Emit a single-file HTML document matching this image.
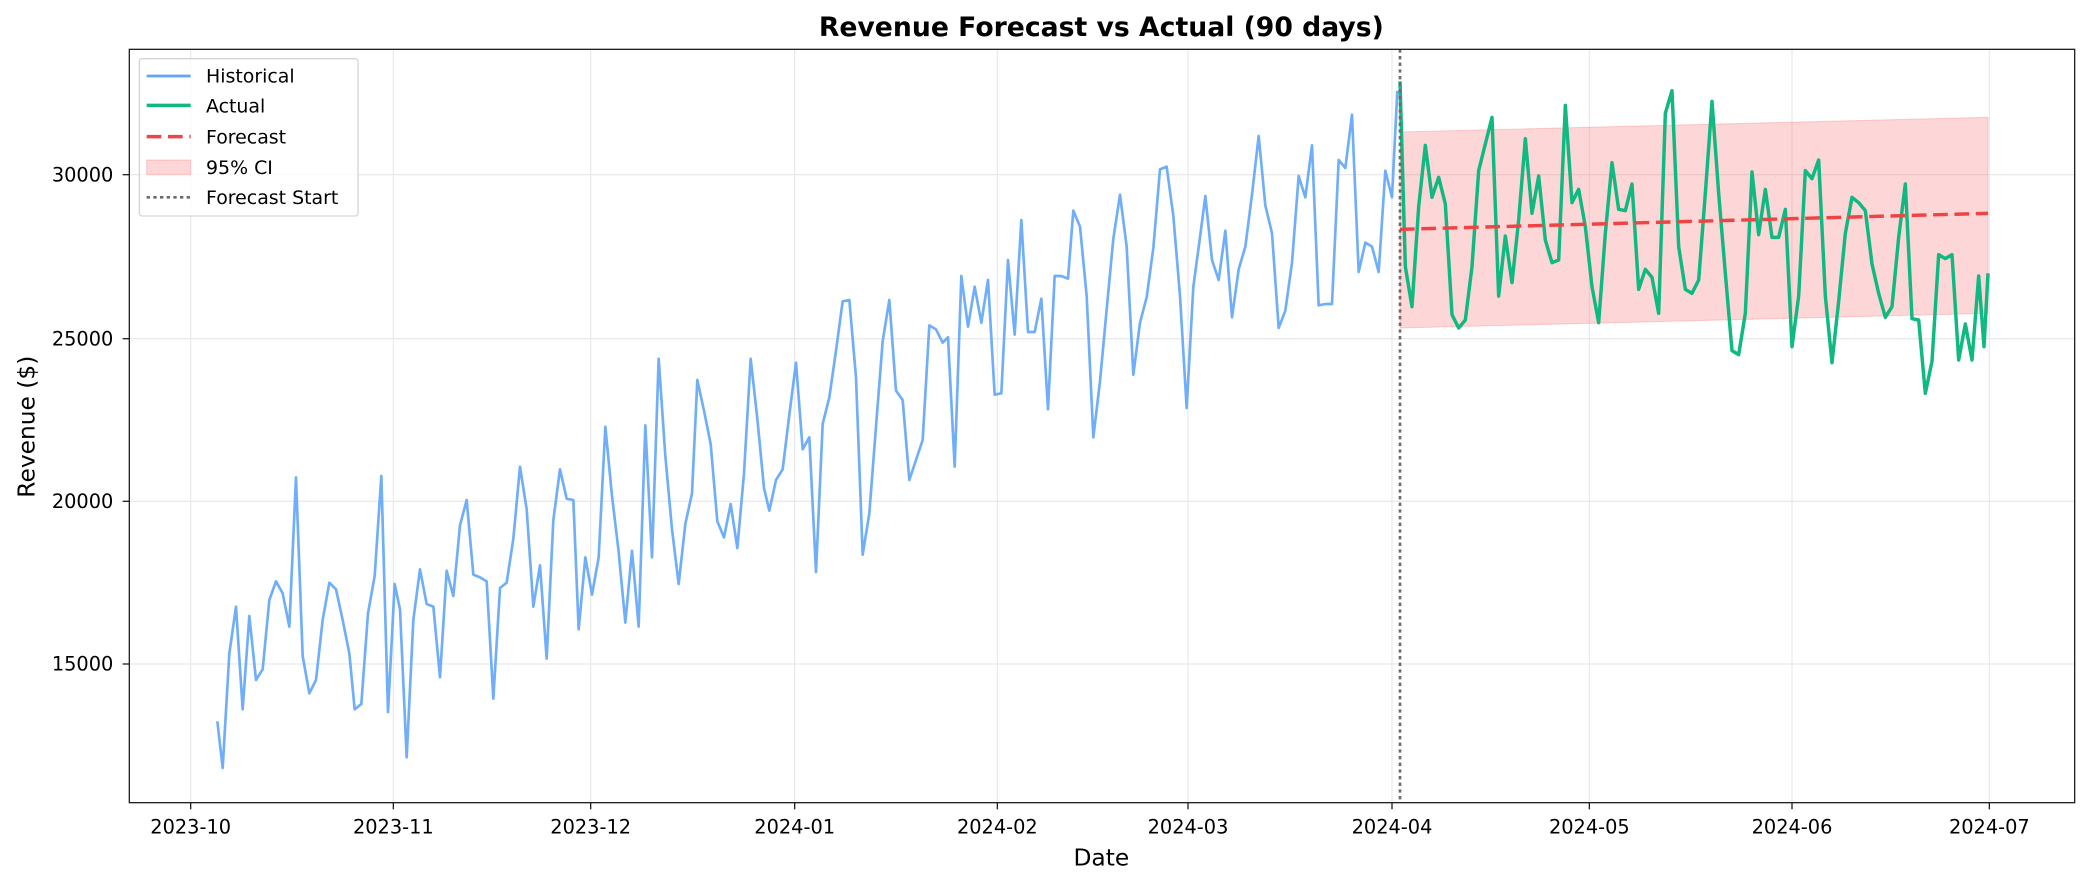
<!DOCTYPE html>
<html><head><style>html,body{margin:0;padding:0;background:#fff}svg{display:block}</style></head>
<body>
<svg width="2086" height="884" viewBox="0 0 1564.5 663" xmlns="http://www.w3.org/2000/svg" font-family="'DejaVu Sans','Liberation Sans',sans-serif">
<rect width="1564.5" height="663" fill="#fff"/>
<!-- grid -->
<g stroke="#e6e6e6" stroke-width="0.8">
<line x1="143" y1="37" x2="143" y2="602"/><line x1="295" y1="37" x2="295" y2="602"/><line x1="443" y1="37" x2="443" y2="602"/><line x1="596" y1="37" x2="596" y2="602"/><line x1="748" y1="37" x2="748" y2="602"/><line x1="891" y1="37" x2="891" y2="602"/><line x1="1044" y1="37" x2="1044" y2="602"/><line x1="1192" y1="37" x2="1192" y2="602"/><line x1="1344" y1="37" x2="1344" y2="602"/><line x1="1492" y1="37" x2="1492" y2="602"/>
<line x1="97" y1="131" x2="1556" y2="131"/><line x1="97" y1="254" x2="1556" y2="254"/><line x1="97" y1="376" x2="1556" y2="376"/><line x1="97" y1="498" x2="1556" y2="498"/>
</g>
<!-- CI -->
<polygon points="1050,99 1491,88 1491,235 1050,246" fill="#f87171" fill-opacity="0.28" stroke="#f87171" stroke-opacity="0.3" stroke-width="0.8"/>
<!-- historical -->
<polyline fill="none" stroke="#60a5fa" stroke-opacity="0.9" stroke-width="2" stroke-linejoin="round" points="163,541 167,576 172,490 177,455 182,532 187,462 192,510 197,502 202,450 207,436 212,445 217,470 222,358 227,492 232,520 237,510 242,465 247,437 252,442 257,465 262,490 266,532 271,528 276,460 281,432 286,357 291,534 296,438 300,457 305,568 310,465 315,427 320,453 325,455 330,508 335,428 340,447 345,394 350,375 355,431 360,433 365,436 370,524 375,441 380,437 385,404 390,350 395,382 400,455 405,424 410,494 415,390 420,352 425,374 430,375 434,472 439,418 444,446 449,418 454,320 459,372 464,414 469,467 474,413 479,470 484,319 489,418 494,269 499,342 504,397 509,438 514,393 519,370 523,285 528,308 533,333 538,391 543,403 548,378 553,411 558,355 563,269 568,314 573,366 577,383 582,360 587,352 592,311 597,272 602,337 607,328 612,429 617,318 622,298 627,263 632,226 637,225 642,283 647,416 652,385 657,320 662,256 667,225 672,293 677,300 682,360 687,345 692,330 697,244 702,247 707,257 711,253 716,350 721,207 726,245 731,215 736,242 741,210 746,296 751,295 756,195 761,251 766,165 771,249 776,249 781,224 786,307 791,207 796,207 801,209 805,158 810,170 815,222 820,328 825,286 830,232 835,179 840,146 845,185 850,281 855,242 860,223 865,186 870,127 875,125 880,162 885,222 890,306 895,215 900,178 904,147 909,195 914,210 919,173 924,238 929,202 934,185 939,146 944,102 949,154 954,175 959,246 964,233 969,197 974,132 979,148 984,109 989,229 994,228 999,228 1004,120 1009,126 1014,86 1019,204 1024,182 1029,185 1034,204 1039,128 1044,148 1048,68"/>
<!-- actual -->
<polyline fill="none" stroke="#10b981" stroke-width="2.6" stroke-linejoin="round" points="1050,61 1054,200 1059,230 1064,155 1069,109 1074,148 1079,133 1084,153 1089,236 1094,246 1099,240 1104,200 1109,128 1114,108 1119,88 1124,222 1129,177 1134,212 1139,165 1144,104 1149,160 1154,132 1159,180 1164,197 1169,195 1174,79 1179,152 1184,142 1189,170 1194,215 1199,242 1204,175 1209,122 1214,157 1219,158 1224,138 1229,217 1234,202 1239,208 1244,235 1249,85 1254,68 1259,185 1264,217 1269,220 1274,210 1279,145 1284,76 1289,145 1294,205 1299,263 1304,266 1309,235 1314,129 1319,176 1324,142 1329,178 1334,178 1339,157 1344,260 1349,222 1354,128 1359,134 1364,120 1369,222 1374,272 1379,226 1384,175 1389,148 1394,152 1399,158 1404,198 1409,220 1414,238 1419,230 1424,178 1429,138 1434,239 1439,240 1444,295 1449,271 1454,191 1459,194 1464,191 1469,270 1474,243 1479,270 1484,207 1488,260 1491,205"/>
<!-- forecast -->
<line x1="1050" y1="172" x2="1491" y2="160" stroke="#ef4444" stroke-width="2.6" stroke-dasharray="11,5"/>
<!-- forecast start -->
<line x1="1050" y1="37" x2="1050" y2="602" stroke="#6b6b6b" stroke-width="2" stroke-dasharray="2.5,2.5"/>
<!-- frame -->
<rect x="97" y="37" width="1459" height="565" fill="none" stroke="#222" stroke-width="1"/>
<!-- ticks -->
<g stroke="#222" stroke-width="1">
<line x1="143" y1="602" x2="143" y2="607"/><line x1="295" y1="602" x2="295" y2="607"/><line x1="443" y1="602" x2="443" y2="607"/><line x1="596" y1="602" x2="596" y2="607"/><line x1="748" y1="602" x2="748" y2="607"/><line x1="891" y1="602" x2="891" y2="607"/><line x1="1044" y1="602" x2="1044" y2="607"/><line x1="1192" y1="602" x2="1192" y2="607"/><line x1="1344" y1="602" x2="1344" y2="607"/><line x1="1492" y1="602" x2="1492" y2="607"/>
<line x1="92" y1="131" x2="97" y2="131"/><line x1="92" y1="254" x2="97" y2="254"/><line x1="92" y1="376" x2="97" y2="376"/><line x1="92" y1="498" x2="97" y2="498"/>
</g>
<g font-size="14.5" text-anchor="middle" fill="#000">
<text x="143" y="625">2023-10</text><text x="295" y="625">2023-11</text><text x="443" y="625">2023-12</text><text x="596" y="625">2024-01</text><text x="748" y="625">2024-02</text><text x="891" y="625">2024-03</text><text x="1044" y="625">2024-04</text><text x="1192" y="625">2024-05</text><text x="1344" y="625">2024-06</text><text x="1492" y="625">2024-07</text>
</g>
<g font-size="14.5" text-anchor="end" fill="#000">
<text x="85" y="136">30000</text><text x="85" y="259">25000</text><text x="85" y="381">20000</text><text x="85" y="503">15000</text>
</g>
<text x="826" y="649" font-size="17.5" text-anchor="middle">Date</text>
<text x="0" y="0" font-size="17.5" text-anchor="middle" transform="translate(26,320) rotate(-90)">Revenue ($)</text>
<text x="826" y="27" font-size="20" font-weight="bold" text-anchor="middle">Revenue Forecast vs Actual (90 days)</text>
<!-- legend -->
<rect x="104.5" y="44" width="164" height="118" rx="2" fill="#fff" fill-opacity="0.8" stroke="#ccc" stroke-width="0.8"/>
<line x1="110" y1="57" x2="143" y2="57" stroke="#60a5fa" stroke-width="2"/>
<line x1="110" y1="79" x2="143" y2="79" stroke="#10b981" stroke-width="2.6"/>
<line x1="110" y1="102.5" x2="143" y2="102.5" stroke="#ef4444" stroke-width="2.6" stroke-dasharray="11,5"/>
<rect x="110" y="120" width="33" height="11" fill="#f87171" fill-opacity="0.28" stroke="#f87171" stroke-opacity="0.3" stroke-width="0.8"/>
<line x1="110" y1="148" x2="143" y2="148" stroke="#6b6b6b" stroke-width="2" stroke-dasharray="2.5,2.5"/>
<g font-size="14.2" fill="#000">
<text x="154.5" y="62">Historical</text><text x="154.5" y="84.5">Actual</text><text x="154.5" y="107.5">Forecast</text><text x="154.5" y="130.5">95% CI</text><text x="154.5" y="153">Forecast Start</text>
</g>
</svg>
</body></html>
